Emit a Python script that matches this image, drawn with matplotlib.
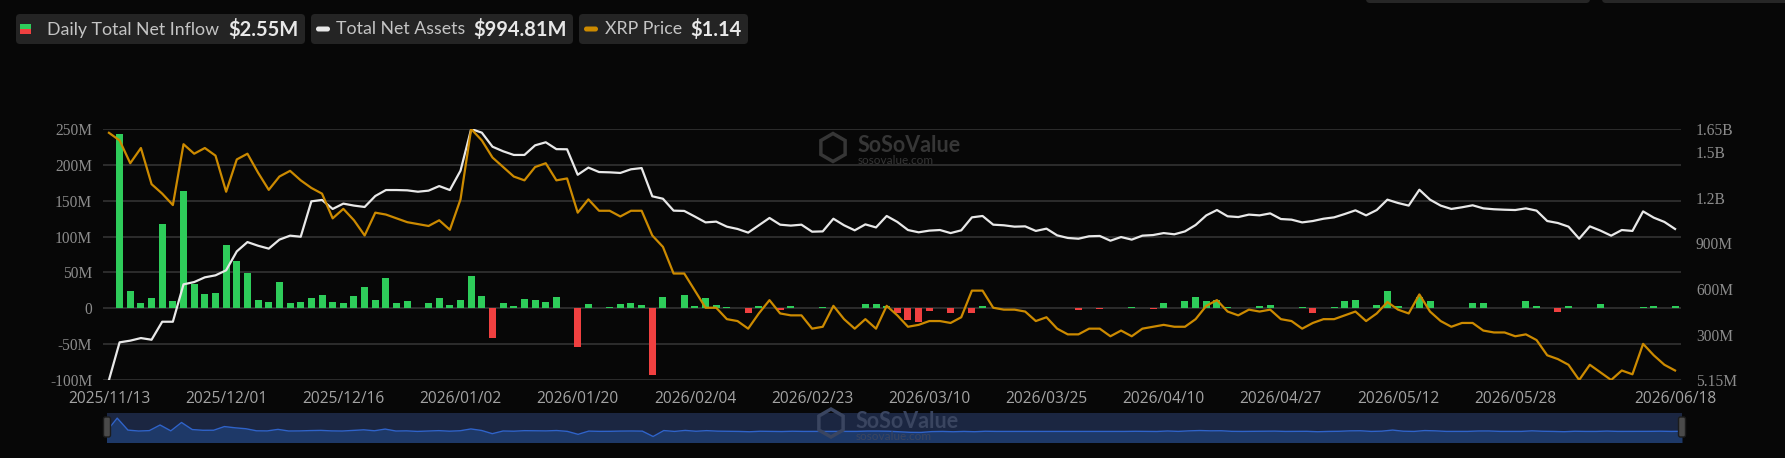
import matplotlib.pyplot as plt
import matplotlib.patches as mpatches
import numpy as np
import pandas as pd

# ---------------------------------
# DATA
# ---------------------------------
# trading days on the chart (exchange holidays + one day missing from the feed)
skip_days = ['2025-11-27', '2025-12-25', '2026-01-01', '2026-01-19',
             '2026-02-16', '2026-02-17', '2026-04-03', '2026-05-25']
dates = pd.bdate_range('2025-11-13', '2026-06-18', freq='C', holidays=skip_days)

# daily total net inflow, $M
net_inflow = [
    0, 242.5, 24, 7, 14.5, 117, 10, 163, 34, 20.5,
    21.5, 88.6, 66, 49, 11, 9, 37, 7.5, 9, 15,
    18.7, 9.3, 7, 17, 29, 11.7, 42.4, 7, 10, 0,
    7, 14, 4, 12, 45, 17, -41.5, 7.5, 3.7, 13.5,
    11.7, 9.3, 16, 0.5, -53.6, 5.6, 1, 2, 6, 7.5,
    5, -93, 15.4, 0, 18, 3, 14, 4.7, 2, 0,
    -6.5, 3, 0, -2, 3, 0, 0, 2, 0, 0.5,
    0.5, 6, 6, 3, -6, -17, -18.7, -3.7, 0, -6.5,
    0, -6, 3, 0, 0, 1, 0, 0.5, 0.5, 0,
    0, -2, 0, -1.5, 0, 0, 2.3, 0, -1, 7.5,
    0.5, 10, 16, 10.7, 12, 1.4, 0, 1, 2.8, 5,
    0, 0.5, 2, -6, 0, 2.3, 10, 11.7, 0, 4.7,
    24, 3.7, 0, 15.4, 10, 0.3, 0.5, 0.5, 7.5, 8,
    0.5, 0, 0.5, 10.3, 2.8, 0, -5.6, 2.8, 0, 0,
    6, 0.3, 0, 0.5, 1.4, 3.7, 0, 2.55,
]

# total net assets, $M
net_assets = [
    5.15, 252, 263, 280, 269, 387, 387, 632, 647, 678,
    691, 724, 848, 909, 885, 866, 925, 951, 944, 1176,
    1185, 1126, 1161, 1148, 1139, 1211, 1250, 1250, 1248, 1239,
    1246, 1276, 1250, 1377, 1650, 1626, 1534, 1504, 1480, 1480,
    1543, 1563, 1518, 1517, 1350, 1397, 1368, 1366, 1362, 1386,
    1394, 1209, 1193, 1115, 1113, 1076, 1038, 1043, 1010, 995,
    971, 1019, 1067, 1023, 1017, 1023, 977, 979, 1062, 1019,
    986, 1025, 1005, 1080, 1041, 988, 973, 984, 988, 968,
    986, 1071, 1080, 1023, 1019, 1010, 1012, 982, 997, 953,
    936, 931, 947, 949, 918, 942, 925, 951, 955, 968,
    960, 979, 1021, 1084, 1119, 1078, 1073, 1089, 1084, 1097,
    1060, 1056, 1038, 1047, 1062, 1071, 1093, 1117, 1084, 1119,
    1187, 1165, 1148, 1252, 1187, 1148, 1126, 1137, 1150, 1130,
    1124, 1121, 1119, 1130, 1115, 1047, 1034, 1010, 931, 1012,
    984, 951, 988, 982, 1110, 1069, 1041, 994.81,
]

# XRP price, $
xrp_price = [
    2.39, 2.35, 2.23, 2.31, 2.12, 2.07, 2.01, 2.33, 2.28, 2.31,
    2.27, 2.08, 2.25, 2.28, 2.18, 2.09, 2.16, 2.19, 2.14, 2.10,
    2.07, 1.94, 1.99, 1.93, 1.85, 1.97, 1.96, 1.94, 1.92, 1.91,
    1.90, 1.93, 1.88, 2.04, 2.41, 2.35, 2.26, 2.21, 2.16, 2.14,
    2.21, 2.23, 2.14, 2.15, 1.97, 2.04, 1.98, 1.98, 1.95, 1.98,
    1.98, 1.85, 1.79, 1.65, 1.65, 1.56, 1.47, 1.47, 1.41, 1.40,
    1.36, 1.44, 1.51, 1.44, 1.43, 1.43, 1.36, 1.37, 1.48, 1.41,
    1.36, 1.41, 1.36, 1.48, 1.43, 1.37, 1.38, 1.40, 1.40, 1.39,
    1.42, 1.56, 1.56, 1.47, 1.46, 1.46, 1.45, 1.40, 1.42, 1.36,
    1.33, 1.33, 1.36, 1.36, 1.32, 1.35, 1.32, 1.36, 1.37, 1.38,
    1.37, 1.37, 1.41, 1.48, 1.51, 1.45, 1.43, 1.46, 1.45, 1.46,
    1.41, 1.40, 1.36, 1.39, 1.41, 1.41, 1.43, 1.45, 1.40, 1.44,
    1.50, 1.46, 1.44, 1.54, 1.45, 1.40, 1.37, 1.39, 1.39, 1.35,
    1.34, 1.34, 1.32, 1.33, 1.30, 1.22, 1.20, 1.17, 1.09, 1.17,
    1.13, 1.09, 1.14, 1.12, 1.28, 1.22, 1.17, 1.14,
]

legend_items = ['Daily Total Net Inflow', 'Total Net Assets', 'XRP Price']
legend_values = ['$2.55M', '$994.81M', '$1.14']

left_ticks = [-100, -50, 0, 50, 100, 150, 200, 250]
left_labels = ['-100M', '-50M', '0', '50M', '100M', '150M', '200M', '250M']
right_ticks = [5.15, 300, 600, 900, 1200, 1500, 1650]
right_labels = ['5.15M', '300M', '600M', '900M', '1.2B', '1.5B', '1.65B']

# ---------------------------------
# STYLE
# ---------------------------------
W, H = 1785, 458
BG = '#070707'
GREEN = '#2ecc5a'
RED = '#f04040'
WHITE = '#e8e8e8'
GOLD = '#cc8a00'
GRID = '#2f2f2f'
SERIF = ['Liberation Serif', 'DejaVu Serif']


def fx(x):
    return x / W


def fy(y):
    return 1 - y / H


fig = plt.figure(figsize=(W / 100, H / 100), dpi=100, facecolor=BG)

# ---------------------------------
# SLIDER (data zoom strip)
# ---------------------------------
idx = np.arange(len(dates))
inflow = np.array(net_inflow)

sl = fig.add_axes([fx(106.5), fy(442.5), (1682 - 106.5) / W, 30 / H])
sl.set_facecolor('#1b2641')
sl.fill_between(idx, inflow, -203, color='#1e3968', lw=0)
sl.plot(idx, inflow, color='#2f63c9', lw=1.0)
sl.set_xlim(0, len(idx) - 1)
sl.set_ylim(-203, 346)
sl.set_xticks([])
sl.set_yticks([])
for s in sl.spines.values():
    s.set_visible(False)

# ---------------------------------
# OVERLAY: legend chips, watermarks, handles (pixel coords)
# ---------------------------------
ov = fig.add_axes([0, 0, 1, 1])
ov.set_xlim(0, W)
ov.set_ylim(H, 0)
ov.axis('off')


def chip(x0, x1, label, value, text_x):
    ov.add_patch(mpatches.FancyBboxPatch((x0, 14), x1 - x0, 30,
                                         boxstyle='round,pad=0,rounding_size=4',
                                         fc='#242424', ec='none'))
    ov.text(text_x, 29.5, label, color='#c4c4c4', fontsize=12.8,
            family='Lato', va='center', ha='left')
    ov.text(x1 - 6, 29.5, value, color='#e8e8e8', fontsize=14.5,
            family='Lato', weight='bold', va='center', ha='right')


chip(16, 305, legend_items[0], legend_values[0], 47)
ov.add_patch(mpatches.Rectangle((20, 24), 11, 5, fc=GREEN, ec='none'))
ov.add_patch(mpatches.Rectangle((20, 29), 11, 5, fc=RED, ec='none'))

chip(311, 573, legend_items[1], legend_values[1], 336)
ov.add_patch(mpatches.FancyBboxPatch((316, 26.5), 14, 5,
                                     boxstyle='round,pad=0,rounding_size=2.5',
                                     fc=WHITE, ec='none'))

chip(579, 748, legend_items[2], legend_values[2], 605)
ov.add_patch(mpatches.FancyBboxPatch((584, 26.5), 14, 5,
                                     boxstyle='round,pad=0,rounding_size=2.5',
                                     fc=GOLD, ec='none'))

# cut-off controls at the top right
for bx0, bx1 in [(1366, 1590), (1602, 1790)]:
    ov.add_patch(mpatches.FancyBboxPatch((bx0, -20), bx1 - bx0, 23,
                                         boxstyle='round,pad=0,rounding_size=4',
                                         fc='#262626', ec='none'))

# watermarks
for (cx, cy), col in [((833, 147.5), '#363636'), ((831, 423), '#3a4560')]:
    ov.add_patch(mpatches.RegularPolygon((cx, cy), 6, radius=14, fill=False,
                                         ec=col, lw=2.5))
    ov.text(cx + 25, cy - 2, 'SoSoValue', color=col, fontsize=15.5,
            family='Lato', weight='bold', va='center', ha='left')
    ov.text(cx + 25, cy + 13, 'sosovalue.com', color=col, fontsize=8.5,
            family='Lato', va='center', ha='left')

# slider handles
for hx in (103.5, 1678.5):
    ov.add_patch(mpatches.FancyBboxPatch((hx, 417), 7, 20,
                                         boxstyle='round,pad=0,rounding_size=2',
                                         fc='#4a4a4a', ec='#1c1c1c', lw=1))

# ---------------------------------
# MAIN CHART
# ---------------------------------
ax = fig.add_axes([fx(103.3), fy(380), (1680.7 - 103.3) / W, (380 - 129) / H])
ax.patch.set_alpha(0)

colors = [GREEN if v >= 0 else RED for v in net_inflow]
ax.bar(idx, net_inflow, width=0.66, color=colors, zorder=2)

ax.set_xlim(-0.53, len(idx) - 1 + 0.53)
ax.set_ylim(-100, 250)
ax.set_yticks(left_ticks)
ax.set_yticklabels(left_labels, family=SERIF, fontsize=11.2, color='#8c8c8c')
ax.grid(axis='y', color=GRID, lw=1.3, zorder=0)
ax.set_axisbelow(True)

tick_idx = list(range(0, len(idx) - 12, 11)) + [len(idx) - 1]
ax.set_xticks(tick_idx)
ax.set_xticklabels([dates[i].strftime('%Y/%m/%d') for i in tick_idx],
                   family='Open Sans', fontsize=11.2, color='#a3a3a3')
ax.tick_params(axis='both', length=0)
ax.tick_params(axis='y', pad=8)
ax.tick_params(axis='x', pad=8)
for s in ax.spines.values():
    s.set_visible(False)

ax2 = ax.twinx()
ax2.plot(idx, net_assets, color=WHITE, lw=1.6, zorder=3)
ax2.set_ylim(min(net_assets), max(net_assets))
ax2.set_yticks(right_ticks)
ax2.set_yticklabels(right_labels, family=SERIF, fontsize=11.2, color='#8c8c8c')
ax2.tick_params(axis='y', length=0, pad=11)
for s in ax2.spines.values():
    s.set_visible(False)

ax3 = ax.twinx()
ax3.plot(idx, xrp_price, color=GOLD, lw=1.6, zorder=4)
ax3.set_ylim(min(xrp_price), max(xrp_price))
ax3.axis('off')

fig.savefig('out.png', dpi=100, facecolor=BG)
